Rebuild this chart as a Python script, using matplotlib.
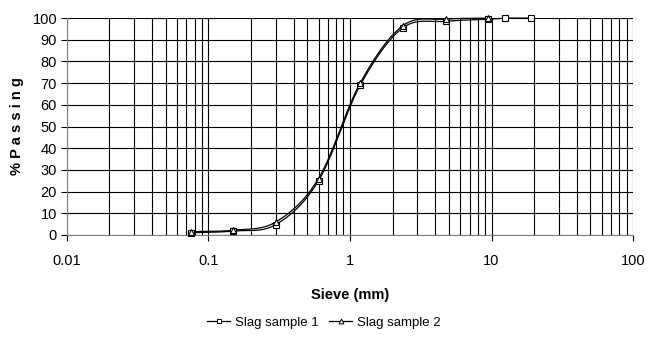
import numpy as np
import matplotlib.pyplot as plt
from matplotlib.ticker import FixedLocator, LogLocator, NullFormatter

plt.rcParams['font.family'] = ['Liberation Sans', 'DejaVu Sans']

# Data
sieve_1 = [0.075, 0.15, 0.3, 0.6, 1.18, 2.36, 4.75, 9.5, 12.5, 19.0]
passing_1 = [1.0, 1.8, 4.8, 25.0, 69.0, 95.5, 98.5, 99.5, 100.0, 100.0]
sieve_2 = [0.075, 0.15, 0.3, 0.6, 1.18, 2.36, 4.75, 9.5]
passing_2 = [1.5, 2.2, 6.0, 26.0, 70.0, 96.5, 99.5, 100.0]
x_ticks = [0.01, 0.1, 1, 10, 100]
x_tick_labels = ['0.01', '0.1', '1', '10', '100']
y_ticks = list(range(0, 101, 10))


def smooth(xs, ys, n=30):
    # Excel-style smoothed line: Catmull-Rom in log-x space
    lx = np.log10(xs)
    y = np.asarray(ys, float)
    px = np.concatenate([[2 * lx[0] - lx[1]], lx, [2 * lx[-1] - lx[-2]]])
    py = np.concatenate([[2 * y[0] - y[1]], y, [2 * y[-1] - y[-2]]])
    outx, outy = [], []
    t = np.linspace(0, 1, n)
    for i in range(1, len(px) - 2):
        for arr, out in ((px, outx), (py, outy)):
            p0, p1, p2, p3 = arr[i - 1], arr[i], arr[i + 1], arr[i + 2]
            out.extend(0.5 * ((2 * p1) + (-p0 + p2) * t
                              + (2 * p0 - 5 * p1 + 4 * p2 - p3) * t ** 2
                              + (-p0 + 3 * p1 - 3 * p2 + p3) * t ** 3))
    return 10 ** np.array(outx), np.array(outy)


fig = plt.figure(figsize=(6.48, 3.42), dpi=100)
ax = fig.add_axes([0.103, 0.313, 0.874, 0.634])

for xs, ys, m, lab in ((sieve_1, passing_1, 's', 'Slag sample 1'),
                       (sieve_2, passing_2, '^', 'Slag sample 2')):
    sx, sy = smooth(xs, ys)
    ax.plot(sx, sy, color='black', lw=0.9, zorder=3, clip_on=False)
    ax.plot(xs, ys, linestyle='none', marker=m, ms=4.5, mfc='white',
            mec='black', mew=0.8, zorder=4, clip_on=False)
    ax.plot([], [], color='black', lw=0.9, marker=m, ms=3.5, mfc='white',
            mec='black', mew=0.7, label=lab)

ax.set_xscale('log')
ax.set_xlim(0.01, 100)
ax.set_ylim(0, 100)
ax.xaxis.set_major_locator(FixedLocator(x_ticks))
ax.set_xticklabels(x_tick_labels)
ax.xaxis.set_minor_locator(LogLocator(base=10, subs=np.arange(2, 10)))
ax.xaxis.set_minor_formatter(NullFormatter())
ax.set_yticks(y_ticks)

ax.grid(True, which='both', axis='x', color='black', lw=0.8)
ax.grid(True, which='major', axis='y', color='black', lw=0.8)
ax.tick_params(axis='both', which='major', direction='out', length=4,
               width=0.8, labelsize=10.5, pad=3)
ax.tick_params(axis='x', which='minor', length=0)
ax.tick_params(axis='x', which='major', pad=10)
for s in ax.spines.values():
    s.set_color('#808080')
    s.set_linewidth(0.8)
ax.spines['top'].set_visible(False)
ax.spines['right'].set_visible(False)

ax.set_xlabel('Sieve (mm)', fontsize=10.5, fontweight='bold', labelpad=14)
ax.set_ylabel('% P a s s i n g', fontsize=10.5, fontweight='bold', labelpad=6)

fig.legend(loc='center', bbox_to_anchor=(0.5, 0.056), ncol=2, frameon=False,
           fontsize=9.5, handlelength=1.7, handletextpad=0.4, columnspacing=0.8)

fig.savefig('out.png', dpi=100)
